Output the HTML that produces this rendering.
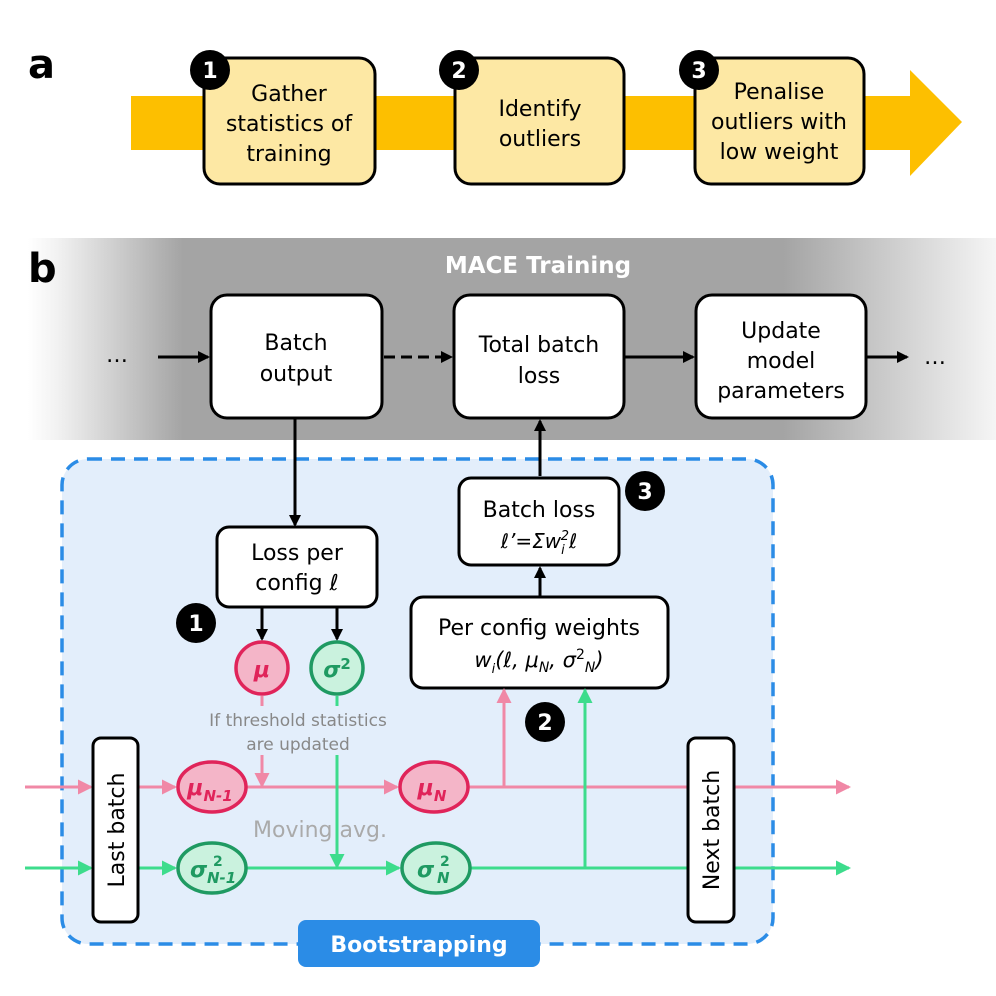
<!DOCTYPE html>
<html><head><meta charset="utf-8"><style>
html,body{margin:0;padding:0;background:#fff}
svg{display:block}
text{font-family:"DejaVu Sans","Liberation Sans",sans-serif}
</style></head><body>
<svg width="996" height="996" viewBox="0 0 996 996" xmlns="http://www.w3.org/2000/svg">
<defs>
<linearGradient id="g" x1="0" x2="1" y1="0" y2="0">
<stop offset="0" stop-color="#fff"/><stop offset="0.03" stop-color="#f2f2f2"/><stop offset="0.16" stop-color="#a4a4a4"/><stop offset="0.78" stop-color="#a4a4a4"/><stop offset="1" stop-color="#f5f5f5"/>
</linearGradient>
<marker id="ak" markerWidth="12" markerHeight="12" refX="10" refY="6" orient="auto" markerUnits="userSpaceOnUse"><path d="M0,0 L12,6 L0,12 z" fill="#000"/></marker>
<marker id="ap" markerWidth="15" markerHeight="15" refX="13" refY="7.5" orient="auto" markerUnits="userSpaceOnUse"><path d="M0,0 L15,7.5 L0,15 z" fill="#f088a6"/></marker>
<marker id="ag" markerWidth="15" markerHeight="15" refX="13" refY="7.5" orient="auto" markerUnits="userSpaceOnUse"><path d="M0,0 L15,7.5 L0,15 z" fill="#3ddc8c"/></marker>
</defs>

<!-- a -->
<text x="28" y="78" font-size="40" font-weight="bold">a</text>
<rect x="131" y="96" width="782" height="54" fill="#fdbf00"/>
<path d="M910,70 L962,122 L910,176 z" fill="#fdbf00"/>
<g fill="#fde8a4" stroke="#000" stroke-width="3">
<rect x="204" y="58" width="171" height="126" rx="16"/>
<rect x="455" y="58" width="169" height="126" rx="16"/>
<rect x="695" y="58" width="169" height="126" rx="16"/>
</g>
<g font-size="22" text-anchor="middle">
<text x="289" y="101">Gather</text><text x="289" y="131">statistics of</text><text x="289" y="161">training</text>
<text x="540" y="116">Identify</text><text x="540" y="146">outliers</text>
<text x="779" y="99">Penalise</text><text x="779" y="129">outliers with</text><text x="779" y="159">low weight</text>
</g>
<g fill="#000"><circle cx="210" cy="70" r="20"/><circle cx="459" cy="70" r="20"/><circle cx="699" cy="70" r="20"/></g>
<g fill="#fff" font-size="22" font-weight="bold" text-anchor="middle">
<text x="210" y="78">1</text><text x="459" y="78">2</text><text x="699" y="78">3</text></g>

<!-- b -->
<rect x="28" y="238" width="968" height="202" fill="url(#g)"/>
<text x="28" y="282" font-size="40" font-weight="bold">b</text>
<text x="538" y="273" font-size="23" font-weight="bold" fill="#fff" text-anchor="middle">MACE Training</text>
<g fill="#fff" stroke="#000" stroke-width="3">
<rect x="211" y="295" width="171" height="123" rx="16"/>
<rect x="454" y="295" width="170" height="123" rx="16"/>
<rect x="696" y="295" width="170" height="123" rx="16"/>
</g>
<g font-size="22" text-anchor="middle">
<text x="296" y="350">Batch</text><text x="296" y="381">output</text>
<text x="539" y="352">Total batch</text><text x="539" y="383">loss</text>
<text x="781" y="338">Update</text><text x="781" y="368">model</text><text x="781" y="398">parameters</text>
<text x="117" y="362">…</text><text x="935" y="364">…</text>
</g>
<g stroke="#000" stroke-width="3">
<line x1="158" y1="357" x2="208" y2="357" marker-end="url(#ak)"/>
<line x1="384" y1="357" x2="451" y2="357" stroke-dasharray="11,6" marker-end="url(#ak)"/>
<line x1="625" y1="357" x2="693" y2="357" marker-end="url(#ak)"/>
<line x1="867" y1="357" x2="907" y2="357" marker-end="url(#ak)"/>
</g>

<rect x="62" y="459" width="711" height="485" rx="26" fill="#e3eefb" stroke="#2b8ce6" stroke-width="3.5" stroke-dasharray="14,9"/>
<rect x="298" y="920" width="242" height="47" rx="8" fill="#2b8ce6"/>
<text x="419" y="952" font-size="22" font-weight="bold" fill="#fff" text-anchor="middle">Bootstrapping</text>

<g stroke="#000" stroke-width="3">
<line x1="295" y1="419" x2="295" y2="525" marker-end="url(#ak)"/>
<line x1="540" y1="476" x2="540" y2="421" marker-end="url(#ak)"/>
<line x1="540" y1="596" x2="540" y2="568" marker-end="url(#ak)"/>
<line x1="262" y1="608" x2="262" y2="639" marker-end="url(#ak)"/>
<line x1="337" y1="608" x2="337" y2="639" marker-end="url(#ak)"/>
</g>
<g fill="#fff" stroke="#000" stroke-width="3">
<rect x="217" y="527" width="160" height="80" rx="12"/>
<rect x="459" y="478" width="160" height="87" rx="12"/>
<rect x="411" y="597" width="257" height="91" rx="12"/>
</g>
<g font-size="22" text-anchor="middle">
<text x="297" y="560">Loss per</text><text x="297" y="590">config <tspan font-style="italic">ℓ</tspan></text>
<text x="539" y="517">Batch loss</text>
<text x="539" y="548" font-style="italic" font-size="20">ℓ’=Σw<tspan font-size="13" dy="6">i</tspan><tspan font-size="13" dy="-14" dx="-4">2</tspan><tspan dy="8">ℓ</tspan></text>
<text x="539" y="635">Per config weights</text>
<text x="539" y="667" font-style="italic" font-size="21">w<tspan font-size="13" dy="6">i</tspan><tspan dy="-6">(ℓ, μ</tspan><tspan font-size="14" dy="5">N</tspan><tspan dy="-5">, σ</tspan><tspan font-style="normal" font-size="14" dy="-8">2</tspan><tspan font-size="14" dy="13">N</tspan><tspan dy="-5">)</tspan></text>
</g>
<g fill="#000"><circle cx="196" cy="623" r="20"/><circle cx="545" cy="722" r="20"/><circle cx="645" cy="491" r="20"/></g>
<g fill="#fff" font-size="22" font-weight="bold" text-anchor="middle">
<text x="196" y="631">1</text><text x="545" y="730">2</text><text x="645" y="499">3</text></g>

<!-- flow lines -->
<g stroke-width="3" fill="none">
<line x1="25" y1="787" x2="91" y2="787" stroke="#f088a6" marker-end="url(#ap)"/>
<line x1="139" y1="787" x2="175" y2="787" stroke="#f088a6" marker-end="url(#ap)"/>
<line x1="247" y1="787" x2="397" y2="787" stroke="#f088a6" marker-end="url(#ap)"/>
<line x1="468" y1="787" x2="687" y2="787" stroke="#f088a6"/>
<line x1="735" y1="787" x2="849" y2="787" stroke="#f088a6" marker-end="url(#ap)"/>
<line x1="262" y1="696" x2="262" y2="706" stroke="#f088a6"/>
<line x1="262" y1="755" x2="262" y2="786" stroke="#f088a6" marker-end="url(#ap)"/>
<line x1="504" y1="787" x2="504" y2="690" stroke="#f088a6" marker-end="url(#ap)"/>
<line x1="25" y1="868" x2="91" y2="868" stroke="#3ddc8c" marker-end="url(#ag)"/>
<line x1="139" y1="868" x2="175" y2="868" stroke="#3ddc8c" marker-end="url(#ag)"/>
<line x1="247" y1="868" x2="399" y2="868" stroke="#3ddc8c" marker-end="url(#ag)"/>
<line x1="471" y1="868" x2="687" y2="868" stroke="#3ddc8c"/>
<line x1="735" y1="868" x2="849" y2="868" stroke="#3ddc8c" marker-end="url(#ag)"/>
<line x1="337" y1="696" x2="337" y2="706" stroke="#3ddc8c"/>
<line x1="337" y1="755" x2="337" y2="867" stroke="#3ddc8c" marker-end="url(#ag)"/>
<line x1="585" y1="868" x2="585" y2="690" stroke="#3ddc8c" marker-end="url(#ag)"/>
</g>
<g font-size="17" fill="#888" text-anchor="middle">
<text x="298" y="726">If threshold statistics</text><text x="298" y="750">are updated</text></g>
<text x="320" y="837" font-size="22" fill="#aaa" text-anchor="middle">Moving avg.</text>

<!-- circles -->
<circle cx="262" cy="668" r="26" fill="#f4b5c8" stroke="#e0245a" stroke-width="3.5"/>
<circle cx="337" cy="668" r="26" fill="#caf2de" stroke="#1f9a62" stroke-width="3.5"/>
<ellipse cx="212" cy="787" rx="34" ry="25" fill="#f4b5c8" stroke="#e0245a" stroke-width="3.5"/>
<ellipse cx="434" cy="787" rx="34" ry="25" fill="#f4b5c8" stroke="#e0245a" stroke-width="3.5"/>
<ellipse cx="212" cy="868" rx="34" ry="25" fill="#caf2de" stroke="#1f9a62" stroke-width="3.5"/>
<ellipse cx="436" cy="868" rx="34" ry="25" fill="#caf2de" stroke="#1f9a62" stroke-width="3.5"/>
<g font-weight="bold" font-style="italic" text-anchor="middle">
<text x="262" y="677" font-size="22" fill="#e0245a">μ</text>
<text x="337" y="677" font-size="22" fill="#1f9a62">σ<tspan font-size="15" dy="-8" font-style="normal">2</tspan></text>
<text x="210" y="795" font-size="22" fill="#e0245a">μ<tspan font-size="15" dy="6">N-1</tspan></text>
<text x="432" y="795" font-size="22" fill="#e0245a">μ<tspan font-size="15" dy="6">N</tspan></text>
<text x="190" y="877" font-size="22" fill="#1f9a62" text-anchor="start">σ</text>
<text x="213" y="866" font-size="14" fill="#1f9a62" text-anchor="start" font-style="normal">2</text>
<text x="207" y="883" font-size="15" fill="#1f9a62" text-anchor="start">N-1</text>
<text x="417" y="877" font-size="22" fill="#1f9a62" text-anchor="start">σ</text>
<text x="440" y="866" font-size="14" fill="#1f9a62" text-anchor="start" font-style="normal">2</text>
<text x="437" y="883" font-size="15" fill="#1f9a62" text-anchor="start">N</text>
</g>

<!-- side boxes -->
<rect x="93" y="738" width="45" height="184" rx="8" fill="#fff" stroke="#000" stroke-width="3"/>
<rect x="688" y="738" width="46" height="184" rx="8" fill="#fff" stroke="#000" stroke-width="3"/>
<text transform="translate(124,830) rotate(-90)" font-size="22" text-anchor="middle">Last batch</text>
<text transform="translate(719,830) rotate(-90)" font-size="22" text-anchor="middle">Next batch</text>
</svg>
</body></html>
